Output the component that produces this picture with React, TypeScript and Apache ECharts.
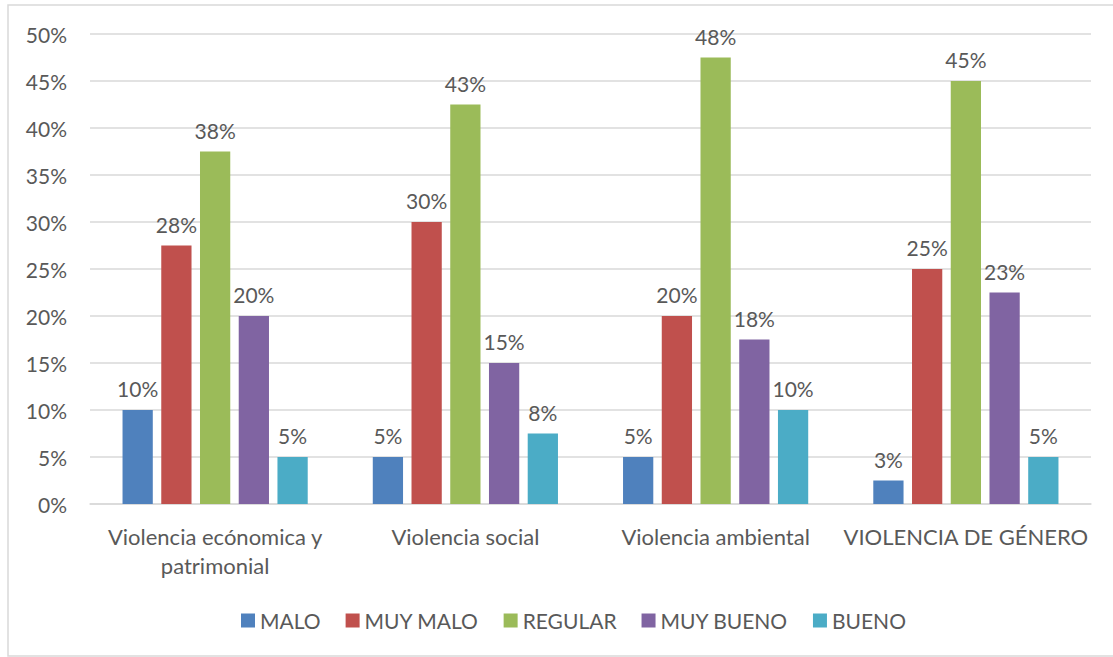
import React, { useEffect, useRef } from "react";
import * as echarts from "echarts";

const categories = [
  "Violencia ecónomica y patrimonial",
  "Violencia social",
  "Violencia ambiental",
  "VIOLENCIA DE GÉNERO",
];
const seriesNames = ["MALO", "MUY MALO", "REGULAR", "MUY BUENO", "BUENO"];
const malo = [10, 5, 5, 2.5];
const muyMalo = [27.5, 30, 20, 25];
const regular = [37.5, 42.5, 47.5, 45];
const muyBueno = [20, 15, 17.5, 22.5];
const bueno = [5, 7.5, 10, 5];
const colors = ["#4F81BD", "#C0504D", "#9BBB59", "#8064A2", "#4BACC6"];

const FONT = "Lato";
const TEXT = "#595959";

export default function App() {
  const ref = useRef<HTMLDivElement>(null);
  useEffect(() => {
    if (!ref.current) return;
    const chart = echarts.init(ref.current, null, { renderer: "svg" });
    const data = [malo, muyMalo, regular, muyBueno, bueno];
    chart.setOption({
      animation: false,
      textStyle: { fontFamily: FONT },
      color: colors,
      graphic: [
        {
          type: "rect",
          shape: { x: 8, y: 5, width: 1200, height: 651 },
          style: { fill: "none", stroke: "#d9d9d9", lineWidth: 1.5 },
          silent: true,
        },
      ],
      grid: { left: 90, right: 22, top: 34, bottom: 153, containLabel: false },
      legend: {
        data: seriesNames,
        left: 236,
        top: 605,
        itemWidth: 14,
        itemHeight: 14,
        itemGap: 25,
        icon: "rect",
        textStyle: { fontFamily: FONT, fontSize: 21, color: TEXT },
      },
      xAxis: {
        type: "category",
        data: categories,
        axisLine: { lineStyle: { color: "#d9d9d9", width: 1.5 } },
        axisTick: { show: false },
        axisLabel: {
          fontFamily: FONT,
          fontSize: 22,
          color: TEXT,
          margin: 18,
          lineHeight: 29,
          interval: 0,
          formatter: (v: string) => v.replace(" patrimonial", "\npatrimonial"),
        },
      },
      yAxis: {
        type: "value",
        min: 0,
        max: 50,
        interval: 5,
        axisLine: { show: false },
        axisTick: { show: false },
        splitLine: { lineStyle: { color: "#d9d9d9", width: 1.5 } },
        axisLabel: {
          fontFamily: FONT,
          fontSize: 21,
          color: TEXT,
          margin: 23,
          formatter: (v: number) => v + "%",
        },
      },
      series: seriesNames.map((name, i) => ({
        name,
        type: "bar",
        data: data[i],
        barGap: "28%",
        barCategoryGap: "26%",
        itemStyle: { color: colors[i] },
        label: {
          show: true,
          position: "top",
          distance: 11,
          fontFamily: FONT,
          fontSize: 21,
          color: TEXT,
          formatter: (p: any) => Math.round(p.value) + "%",
        },
      })),
    });
    return () => chart.dispose();
  }, []);
  return (
    <div
      ref={ref}
      style={{ position: "fixed", left: 0, top: 0, width: 1113, height: 657, background: "#fff" }}
    />
  );
}
